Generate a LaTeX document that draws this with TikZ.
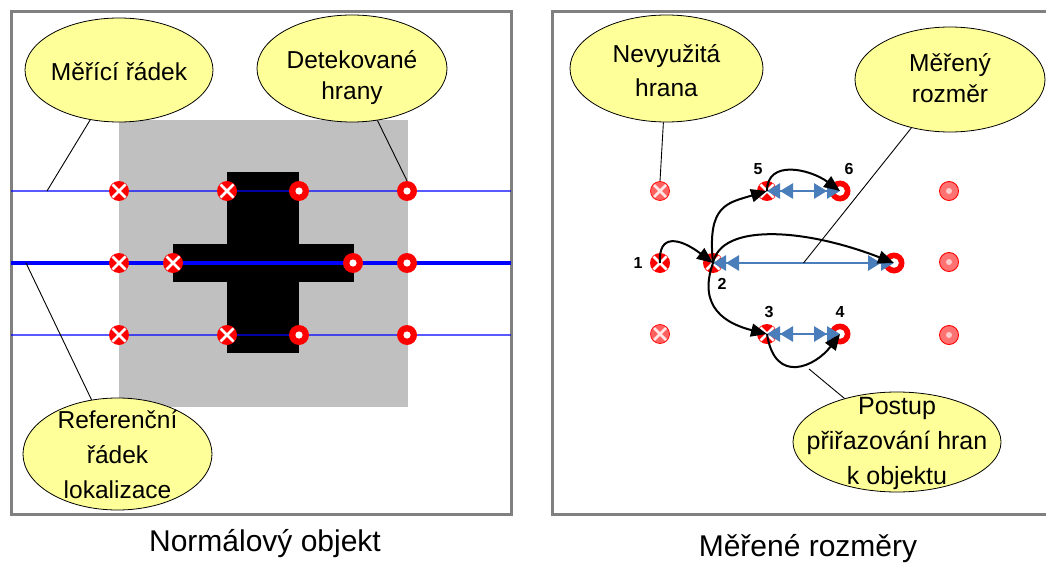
\documentclass[tikz,border=0pt]{standalone}
\usepackage{fontspec}
\setmainfont{Liberation Sans}
\usetikzlibrary{arrows.meta,calc,shapes.geometric}

\definecolor{panelgray}{HTML}{808080}
\definecolor{objgray}{HTML}{C0C0C0}
\definecolor{notefill}{HTML}{FFFF99}
\definecolor{dimblue}{HTML}{4A7EBB}

\begin{document}
\begin{tikzpicture}[x=1pt,y=-1pt,
  panel/.style={draw=panelgray, line width=3pt},
  rowthin/.style={draw=blue, draw opacity=0.65, line width=1.3pt},
  rowthick/.style={draw=blue, line width=3.6pt},
  note/.style={ellipse, draw=black, line width=0.8pt, fill=notefill, inner sep=0pt},
  notetext/.style={inner sep=0pt, align=center},
  leader/.style={draw=black, line width=0.9pt},
  xmark/.style={circle, fill=red, minimum size=20pt, inner sep=0pt,
    path picture={\draw[white, line width=2.8pt]
      (path picture bounding box.center) ++(-6.5pt,-6.5pt) -- ++(13pt,13pt)
      (path picture bounding box.center) ++(-6.5pt,6.5pt) -- ++(13pt,-13pt);}},
  omark/.style={circle, fill=red, minimum size=20pt, inner sep=0pt,
    path picture={\fill[white] (path picture bounding box.center) circle (3.6pt);}},
  ringmark/.style={circle, fill=red, minimum size=21pt, inner sep=0pt,
    path picture={\fill[white] (path picture bounding box.center) circle (4.8pt);}},
  fadex/.style={circle, fill=red!62, draw=red, line width=0.7pt, minimum size=19pt, inner sep=0pt,
    path picture={\draw[white, line width=2.6pt, opacity=0.85]
      (path picture bounding box.center) ++(-6pt,-6pt) -- ++(12pt,12pt)
      (path picture bounding box.center) ++(-6pt,6pt) -- ++(12pt,-12pt);}},
  fadeo/.style={circle, fill=red!55, draw=red, line width=0.9pt, minimum size=19pt, inner sep=0pt,
    path picture={\fill[white!80!red] (path picture bounding box.center) circle (3pt);}},
  num/.style={inner sep=0pt, font=\fontsize{16}{19}\selectfont\bfseries},
  dim/.style={draw=dimblue, line width=2.8pt,
    {Triangle[length=13pt,width=15pt]Triangle[length=13pt,width=15pt]}-{Triangle[length=13pt,width=15pt]Triangle[length=13pt,width=15pt]}},
  assign/.style={draw=black, line width=2pt, -{Triangle[length=16pt,width=13pt]}},
  caption/.style={inner sep=0pt, font=\fontsize{30}{36}\selectfont}
]
\clip (0,0) rectangle (1046,564);
\fill[white] (0,0) rectangle (1046,564);

% ---------------- left panel: normal object ----------------
\draw[panel] (11,12) rectangle (511,514);
\fill[objgray] (119,120) rectangle (408,407);
\fill[black] (227,172) rectangle (299,353);
\fill[black] (173,244) rectangle (354,282);

\draw[rowthin] (11,191) -- (511,191);
\draw[rowthick] (11,263) -- (511,263);
\draw[rowthin] (11,335) -- (511,335);

\node[xmark] (a1) at (119,191) {};
\node[xmark] (a2) at (227,191) {};
\node[omark] (a3) at (299,191) {};
\node[omark] (a4) at (407,191) {};
\node[xmark] (b1) at (119,263) {};
\node[xmark] (b2) at (173,263) {};
\node[omark] (b3) at (353,263) {};
\node[omark] (b4) at (407,263) {};
\node[xmark] (c1) at (119,335) {};
\node[xmark] (c2) at (227,335) {};
\node[omark] (c3) at (299,335) {};
\node[omark] (c4) at (407,335) {};

\coordinate (rowpick) at (47,191);
\coordinate (refpick) at (26,263);

\node[note, minimum width=188pt, minimum height=104pt] (lab1) at (119,70) {};
\node[notetext, font=\fontsize{24.5}{30}\selectfont] (lab1t) at (119,72) {Měřící řádek};
\node[note, minimum width=190pt, minimum height=107pt] (lab2) at (352,68.5) {};
\node[notetext, font=\fontsize{24.5}{31}\selectfont] (lab2t) at (352,78) {Detekované\\hrany};
\node[note, minimum width=189pt, minimum height=112pt] (lab3) at (117.5,454) {};
\node[notetext, font=\fontsize{24.5}{35}\selectfont] (lab3t) at (117.5,455) {Referenční\\řádek\\lokalizace};

\draw[leader] (lab1.-120) -- (rowpick);
\draw[leader] (a4.north) -- (lab2);
\draw[leader] (refpick) -- (lab3);

\node[caption] (cap1) at (265,544) {Normálový objekt};

% ---------------- right panel: measured dimensions ----------------
\draw[panel] (552,12) rectangle (1070,514);

\node[fadex] (f1) at (660,191) {};
\node[fadex] (f3) at (660,334) {};
\node[fadeo] (g1) at (949,191) {};
\node[fadeo] (g2) at (949,262) {};
\node[fadeo] (g3) at (949,335) {};

\node[xmark] (m1) at (660,263) {};
\node[xmark] (m2) at (713,263) {};
\node[xmark] (m5) at (767,191) {};
\node[ringmark] (m6) at (840,191) {};
\node[ringmark] (mR) at (894,263) {};
\node[xmark] (m3) at (767,334) {};
\node[ringmark] (m4) at (840,334) {};

\node[num] (n1) at (638,263) {1};
\node[num] (n2) at (722,284) {2};
\node[num] (n3) at (769,312) {3};
\node[num] (n4) at (840,312) {4};
\node[num] (n5) at (758,169) {5};
\node[num] (n6) at (849,169) {6};

\draw[dim] (m5.center) -- (m6.center);
\draw[dim] (m2.center) -- (mR.center);
\draw[dim] (m3.center) -- (m4.center);

\draw[assign] (m1.center) .. controls +(-2,-30) and +(-33,-25) .. (m2.center);
\draw[assign] (m2.center) .. controls +(-6,-58) and +(-40,12) .. (m5.center);
\draw[assign] (m5.center) .. controls +(0,-32) and +(-30,-22) .. (m6.center);
\draw[assign] (m2.center) .. controls +(8,-40) and +(-90,-35) .. (mR.center);
\draw[assign] (m2.center) .. controls +(-16,45) and +(-40,-10) .. (m3.center);
\draw[assign] (m3.center) .. controls +(8,52) and +(-24,32) .. (m4.center);

\coordinate (dimmid) at ($(m2)!0.5!(mR)$);
\coordinate (seqpick) at (809,369);

\node[note, minimum width=193pt, minimum height=107pt] (lab4) at (666.5,68.5) {};
\node[notetext, font=\fontsize{24.5}{34}\selectfont] (lab4t) at (666.5,71) {Nevyužitá\\hrana};
\node[note, minimum width=190pt, minimum height=105pt] (lab5) at (950,79.5) {};
\node[notetext, font=\fontsize{24.5}{31}\selectfont] (lab5t) at (950,78) {Měřený\\rozměr};
\node[note, minimum width=208pt, minimum height=100pt] (lab6) at (897,442) {};
\node[notetext, font=\fontsize{25}{35}\selectfont] (lab6t) at (897,443) {Postup\\přiřazování hran\\k objektu};

\draw[leader] (f1.north) -- (lab4);
\draw[leader] (dimmid) -- (lab5);
\draw[leader] (seqpick) -- (lab6);

\node[caption] (cap2) at (808,549) {Měřené rozměry};
\end{tikzpicture}
\end{document}
